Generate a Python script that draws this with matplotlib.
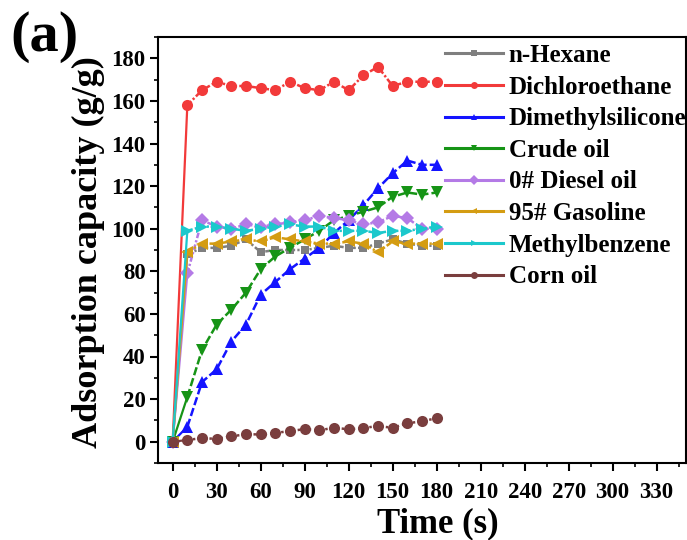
import numpy as np
import matplotlib
matplotlib.use('Agg')
import matplotlib.pyplot as plt
from matplotlib.lines import Line2D
from matplotlib.ticker import MultipleLocator

plt.rcParams['font.family'] = ['Liberation Serif', 'DejaVu Serif']
plt.rcParams['font.weight'] = 'bold'
plt.rcParams['lines.scale_dashes'] = False

time = [0, 10, 20, 30, 40, 50, 60, 70, 80, 90, 100, 110, 120, 130, 140, 150, 160, 170, 180]

hexane = [0, 88, 91, 91, 92, 95, 89, 90, 90, 90, 91, 92, 91, 91, 93, 95, 93, 92, 92]
dichloroethane = [0, 158, 165, 169, 167, 167, 166, 165, 169, 166, 165, 169, 165, 172, 176, 167, 169, 169, 169]
dimethylsilicone = [0, 7, 28, 34, 47, 55, 69, 75, 81, 86, 91, 98, 104, 111, 119, 126, 132, 130, 130]
crude_oil = [0, 21, 43, 55, 62, 70, 81, 87, 91, 95, 99, 104, 106, 108, 110, 115, 117, 116, 117]
diesel = [0, 79, 104, 101, 100, 102, 101, 102, 103, 104, 106, 105, 104, 102, 103, 106, 105, 100, 100]
gasoline = [0, 89, 93, 93, 94, 95, 94, 96, 95, 94, 93, 93, 94, 93, 89, 94, 93, 93, 93]
methylbenzene = [0, 99, 101, 101, 100, 99, 100, 101, 102, 101, 101, 99, 99, 99, 98, 99, 99, 100, 101]
corn_oil = [0, 0.8, 1.7, 1.3, 2.5, 3.5, 3.4, 4.1, 5.0, 5.9, 5.3, 6.6, 5.8, 6.4, 7.4, 6.5, 8.7, 9.5, 11.1]

labels = ['n-Hexane', 'Dichloroethane', 'Dimethylsilicone', 'Crude oil',
          '0# Diesel oil', '95# Gasoline', 'Methylbenzene', 'Corn oil']
series = [hexane, dichloroethane, dimethylsilicone, crude_oil,
          diesel, gasoline, methylbenzene, corn_oil]
colors = ['#7f7f7f', '#f23a3a', '#1414ff', '#169416',
          '#b47ae6', '#d49c12', '#1cc8cc', '#7a3e3e']
markers = ['s', 'o', '^', 'v', 'D', '<', '>', 'o']
msizes = [6, 8, 8.5, 8.5, 7, 8.5, 8.5, 8]

dashdot = (0, (4, 1.6, 1.6, 1.6))
dashed = (0, (6, 2.2))
dotted = (0, (1.8, 2.2))
styles = [dashdot, dashdot, dashed, dashed, dashdot, dashdot, dashdot, dotted]

fig = plt.figure(figsize=(6.87, 5.40), dpi=100)
ax = fig.add_axes([158/687, 1-463/540, 528/687, 426/540])

for y, c, m, ms, ls in zip(series, colors, markers, msizes, styles):
    # first segment is a plain solid line
    ax.plot(time[:2], y[:2], color=c, lw=1.6, ls='-')
    ax.plot(time[1:], y[1:], color=c, lw=1.8, ls=ls)
    ax.plot(time, y, color=c, ls='none', marker=m, markersize=ms,
            markeredgewidth=0)

ax.set_xlim(-10, 350)
ax.set_ylim(-10, 190)
ax.xaxis.set_minor_locator(MultipleLocator(15))
ax.yaxis.set_minor_locator(MultipleLocator(10))
ax.set_xticks(np.arange(0, 331, 30))
ax.set_yticks(np.arange(0, 181, 20))

for s in ax.spines.values():
    s.set_linewidth(1.5)
ax.tick_params(which='major', direction='out', length=6, width=1.5,
               labelsize=16.5, pad=8)
ax.tick_params(which='minor', direction='out', length=3, width=1.2)
ax.tick_params(axis='y', pad=3)
ax.tick_params(top=False, right=False, which='both')
for lab in ax.get_xticklabels() + ax.get_yticklabels():
    lab.set_fontweight('bold')

ax.set_xlabel('Time (s)', fontsize=25, fontweight='bold')
ax.set_ylabel('Adsorption capacity (g/g)', fontsize=26, fontweight='bold')
ax.xaxis.set_label_coords(0.53, -0.104)
ax.yaxis.set_label_coords(-0.1, 0.495)

handles = [Line2D([], [], color=c, lw=2.2, marker=m, markersize=5, markeredgewidth=0)
           for c, m in zip(colors, markers)]
leg = fig.legend(handles, labels, loc='upper left', bbox_to_anchor=(445/687, 1-44/540),
                 frameon=False, fontsize=18, handlelength=2.3, handletextpad=0.25,
                 labelspacing=0.345, borderpad=0, borderaxespad=0)
for t in leg.get_texts():
    t.set_fontweight('bold')

fig.text(10/687, 1-11/540, '(a)', fontsize=42, fontweight='bold', va='top', ha='left')

plt.savefig('out.png', dpi=100)
